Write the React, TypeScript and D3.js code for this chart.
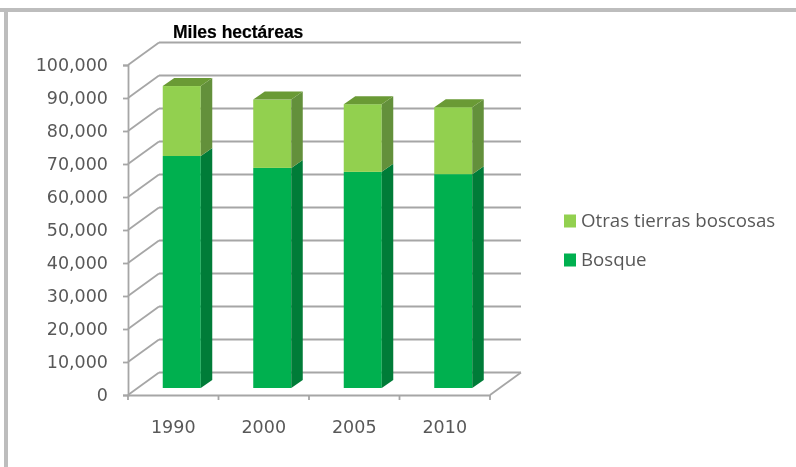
import React, { useEffect, useRef } from 'react';
import * as d3 from 'd3';

const years = ['1990', '2000', '2005', '2010'];
const bosque = [70300, 66700, 65500, 64800];
const otras = [21200, 20700, 20500, 20300];
const seriesNames = ['Otras tierras boscosas', 'Bosque'];
const yTicks = [0, 10000, 20000, 30000, 40000, 50000, 60000, 70000, 80000, 90000, 100000];

const App: React.FC = () => {
  const chartRef = useRef<SVGSVGElement | null>(null);

  useEffect(() => {
    const svg = d3.select(chartRef.current);
    svg.selectAll('*').remove();

    const left = 128, right = 490, bottom = 395, top = 65;
    const depthX = 31, depthY = -22.5;
    const barDx = 8.5, barDy = -7; // bars sit inside the depth of the floor
    const sideX = 11.5, sideY = -8;
    const gridColor = '#a6a6a6';
    const textColor = '#595959';

    svg.append('rect').attr('width', 796).attr('height', 467).attr('fill', '#fff');

    // frame, only top and left are visible
    svg.append('rect').attr('x', 0).attr('y', 8).attr('width', 796).attr('height', 4).attr('fill', '#bdbdbd');
    svg.append('rect').attr('x', 4).attr('y', 8).attr('width', 4).attr('height', 459).attr('fill', '#bdbdbd');

    const defs = svg.append('defs');
    defs.append('filter').attr('id', 'soft')
      .append('feGaussianBlur').attr('stdDeviation', 0.7);

    const g = svg.append('g').attr('filter', 'url(#soft)');

    const y = d3.scaleLinear().domain([0, 100000]).range([bottom, top]);
    const x = d3.scaleBand<string>().domain(years).range([left, right]).paddingInner(0.58).paddingOuter(0.29);
    const step = x.step();

    // walls
    yTicks.forEach(t => {
      g.append('line')
        .attr('x1', left).attr('y1', y(t))
        .attr('x2', left + depthX).attr('y2', y(t) + depthY)
        .attr('stroke', gridColor).attr('stroke-width', 1.8);
      g.append('line')
        .attr('x1', left + depthX).attr('y1', y(t) + depthY)
        .attr('x2', right + depthX).attr('y2', y(t) + depthY)
        .attr('stroke', gridColor).attr('stroke-width', 1.8);
    });
    g.append('line')
      .attr('x1', right).attr('y1', y(0))
      .attr('x2', right + depthX).attr('y2', y(0) + depthY)
      .attr('stroke', gridColor).attr('stroke-width', 1.8);

    // bars
    const drawSegment = (year: string, from: number, to: number, front: string, side: string, topFace: string | null) => {
      const bx = (x(year) as number) + barDx;
      const bw = x.bandwidth();
      const y0 = y(from) + barDy;
      const y1 = y(to) + barDy;
      g.append('rect').attr('x', bx).attr('y', y1).attr('width', bw).attr('height', y0 - y1).attr('fill', front);
      g.append('polygon')
        .attr('points', [[bx + bw, y0], [bx + bw + sideX, y0 + sideY], [bx + bw + sideX, y1 + sideY], [bx + bw, y1]].join(' '))
        .attr('fill', side);
      if (topFace) {
        g.append('polygon')
          .attr('points', [[bx, y1], [bx + sideX, y1 + sideY], [bx + bw + sideX, y1 + sideY], [bx + bw, y1]].join(' '))
          .attr('fill', topFace);
      }
    };

    years.forEach((year, i) => {
      drawSegment(year, 0, bosque[i], '#00b04f', '#007c38', null);
      drawSegment(year, bosque[i], bosque[i] + otras[i], '#92d050', '#64903a', '#6a9a35');
    });

    // axes
    const yAxis = g.append('g')
      .attr('transform', `translate(${left},0)`)
      .call(d3.axisLeft(y).tickValues(yTicks).tickFormat(d3.format(',') as any).tickSize(5).tickPadding(15));
    yAxis.selectAll('path, line').attr('stroke', gridColor).attr('stroke-width', 1.8);
    yAxis.selectAll('text')
      .attr('fill', textColor)
      .style('font-family', '"DejaVu Sans", sans-serif')
      .style('font-size', '17.5px');

    const xAxis = g.append('g')
      .attr('transform', `translate(0,${bottom})`)
      .call(d3.axisBottom(x).tickSize(0).tickPadding(26));
    xAxis.select('path').attr('stroke', gridColor).attr('stroke-width', 1.8);
    xAxis.selectAll('text')
      .attr('fill', textColor)
      .style('font-family', '"DejaVu Sans", sans-serif')
      .style('font-size', '17.5px');
    years.concat(['end']).forEach((_, i) => {
      g.append('line')
        .attr('x1', left + step * i).attr('x2', left + step * i)
        .attr('y1', bottom).attr('y2', bottom + 5)
        .attr('stroke', gridColor).attr('stroke-width', 1.8);
    });

    // legend
    const legendColors = ['#92d050', '#00b04f'];
    const legendY = [221, 260];
    seriesNames.forEach((name, i) => {
      g.append('rect')
        .attr('x', 564).attr('y', legendY[i] - 6.5)
        .attr('width', 12).attr('height', 13)
        .attr('fill', legendColors[i]);
      g.append('text')
        .attr('x', 581).attr('y', legendY[i])
        .attr('dy', '0.34em')
        .attr('fill', textColor)
        .style('font-family', '"Open Sans", sans-serif')
        .style('font-size', '18.7px')
        .text(name);
    });

    // title
    svg.append('text')
      .attr('x', 173).attr('y', 38)
      .attr('fill', '#000')
      .attr('stroke', '#000').attr('stroke-width', 0.2)
      .style('font-family', '"Liberation Sans", Arial, sans-serif')
      .style('font-weight', 'bold')
      .style('font-size', '17.5px')
      .text('Miles hectáreas');
  }, []);

  return (
    <div style={{ position: 'absolute', left: 0, top: 0 }}>
      <svg ref={chartRef} width={796} height={467} style={{ display: 'block' }}></svg>
    </div>
  );
};

export default App;
